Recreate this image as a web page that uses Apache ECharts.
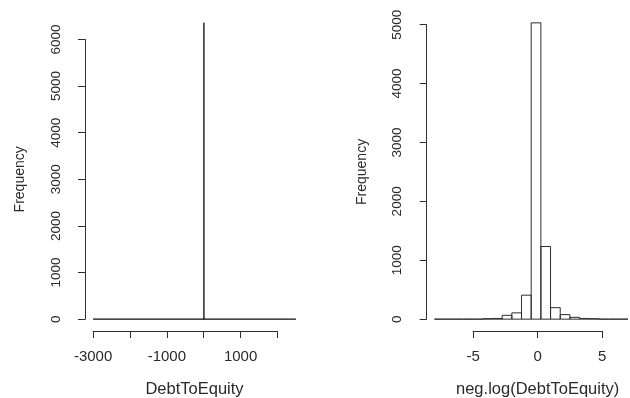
<!DOCTYPE html>
<html>
<head>
<meta charset="utf-8">
<script src="https://cdn.jsdelivr.net/npm/echarts@6/dist/echarts.min.js"></script>
<style>
  html, body { margin: 0; padding: 0; background: #ffffff; }
  #chart { width: 630px; height: 398px; }
</style>
</head>
<body>
<div id="chart"></div>
<script>
// Histogram of raw DebtToEquity: full span of the breaks, bin width, non-empty bins
const rawBreakRange = [-3000, 2500];
const rawBinWidth = 10;
const rawBinStarts = [-10, 0, 10];
const rawCounts = [8, 6357, 14];
const rawXTicks = [-3000, -2000, -1000, 0, 1000, 2000];
const rawXLabels = ['-3000', '', '-1000', '', '1000', ''];
const rawYTicks = [0, 1000, 2000, 3000, 4000, 5000, 6000];

// Histogram of neg.log(DebtToEquity): breaks and counts per bin
const logBreaks = [-8, -7.25, -6.5, -5.75, -5, -4.25, -3.5, -2.75, -2, -1.25, -0.5,
                   0.25, 1, 1.75, 2.5, 3.25, 4, 4.75, 5.5, 6.25, 7];
const logCounts = [0, 0, 0, 0, 0, 8, 12, 65, 107, 407, 5031,
                   1234, 195, 77, 31, 12, 8, 0, 0, 0];
const logXTicks = [-5, 0, 5];
const logYTicks = [0, 1000, 2000, 3000, 4000, 5000];

// Plot regions (pixels) of the two panels
const panels = [
  { left: 85, right: 304, top: 11, bottom: 331 },
  { left: 426.7, right: 635.7, top: 11, bottom: 331 }
];

const INK = '#2e2e2e';
const TEXT = '#2a2a2a';
const FONT = 'Liberation Sans, Arial, sans-serif';

// Build bin rows [start, end, count]
const rawBins = [[rawBreakRange[0], rawBreakRange[1], 0]].concat(
  rawBinStarts.map((s, i) => [s, s + rawBinWidth, rawCounts[i]])
);
const logBins = logCounts.map((c, i) => [logBreaks[i], logBreaks[i + 1], c]);

// R-style usr ranges: data range extended by 4% on each side
function usr(lo, hi) { const d = (hi - lo) * 0.04; return [lo - d, hi + d]; }

// Grid that spans exactly the tick range inside a plot region
function tickGrid(panel, xr, yr, xTicks, yTicks) {
  const W = panel.right - panel.left, H = panel.bottom - panel.top;
  const px = v => panel.left + (v - xr[0]) / (xr[1] - xr[0]) * W;
  const py = v => panel.bottom - (v - yr[0]) / (yr[1] - yr[0]) * H;
  const gl = px(xTicks[0]), gr = px(xTicks[xTicks.length - 1]);
  const gt = py(yTicks[yTicks.length - 1]), gb = py(yTicks[0]);
  return {
    grid: {
      left: gl, width: gr - gl, top: gt, height: gb - gt,
      containLabel: false, outerBoundsMode: 'none'
    },
    xOffset: panel.bottom - gb,
    yOffset: gl - panel.left,
    center: (panel.left + panel.right) / 2 - (gl + gr) / 2
  };
}

const rawXR = usr(rawBreakRange[0], rawBreakRange[1]);
const rawYR = usr(0, Math.max.apply(null, rawCounts));
const logXR = usr(logBreaks[0], logBreaks[logBreaks.length - 1]);
const logYR = usr(0, Math.max.apply(null, logCounts));

const g0 = tickGrid(panels[0], rawXR, rawYR, rawXTicks, rawYTicks);
const g1 = tickGrid(panels[1], logXR, logYR, logXTicks, logYTicks);

function binRenderer(params, api) {
  const a = api.coord([api.value(0), api.value(2)]);
  const b = api.coord([api.value(1), 0]);
  return {
    type: 'rect',
    shape: { x: a[0], y: a[1], width: b[0] - a[0], height: b[1] - a[1] },
    style: { fill: 'none', stroke: INK, lineWidth: 1 }
  };
}

function xAxisFor(gi, ticks, labels, name, offset, shift) {
  return {
    type: 'value', gridIndex: gi,
    min: ticks[0], max: ticks[ticks.length - 1],
    interval: ticks[1] - ticks[0],
    offset: offset,
    splitLine: { show: false },
    axisLine: { show: true, onZero: false, lineStyle: { color: INK, width: 1 } },
    axisTick: { show: true, length: 7, lineStyle: { color: INK, width: 1 } },
    axisLabel: {
      margin: 18, fontSize: 15, color: TEXT, fontFamily: FONT,
      formatter: v => { const i = ticks.indexOf(v); return i < 0 ? '' : labels[i]; }
    },
    name: name, nameLocation: 'middle', nameGap: 50,
    nameTextStyle: {
      fontSize: 16.5, color: TEXT, fontFamily: FONT,
      padding: shift > 0 ? [0, 0, 0, 2 * shift] : [0, -2 * shift, 0, 0]
    }
  };
}

function yAxisFor(gi, ticks, offset) {
  return {
    type: 'value', gridIndex: gi,
    min: ticks[0], max: ticks[ticks.length - 1],
    interval: ticks[1] - ticks[0],
    offset: offset,
    splitLine: { show: false },
    axisLine: { show: true, onZero: false, lineStyle: { color: INK, width: 1 } },
    axisTick: { show: true, length: 7, lineStyle: { color: INK, width: 1 } },
    axisLabel: {
      rotate: 90, margin: 22, fontSize: 13.5, color: TEXT, fontFamily: FONT,
      formatter: v => String(v)
    },
    name: 'Frequency', nameLocation: 'middle', nameGap: 58,
    nameTextStyle: { fontSize: 14, color: TEXT, fontFamily: FONT }
  };
}

const chart = echarts.init(document.getElementById('chart'), null, { renderer: 'canvas' });
chart.setOption({
  animation: false,
  backgroundColor: '#ffffff',
  grid: [g0.grid, g1.grid],
  xAxis: [
    xAxisFor(0, rawXTicks, rawXLabels, 'DebtToEquity', g0.xOffset, g0.center),
    xAxisFor(1, logXTicks, logXTicks.map(String), 'neg.log(DebtToEquity)', g1.xOffset, 0)
  ],
  yAxis: [
    yAxisFor(0, rawYTicks, g0.yOffset),
    yAxisFor(1, logYTicks, g1.yOffset)
  ],
  series: [
    { type: 'custom', xAxisIndex: 0, yAxisIndex: 0, clip: false,
      renderItem: binRenderer, data: rawBins, encode: { x: [0, 1], y: 2 } },
    { type: 'custom', xAxisIndex: 1, yAxisIndex: 1, clip: false,
      renderItem: binRenderer, data: logBins, encode: { x: [0, 1], y: 2 } }
  ]
});
</script>
</body>
</html>
